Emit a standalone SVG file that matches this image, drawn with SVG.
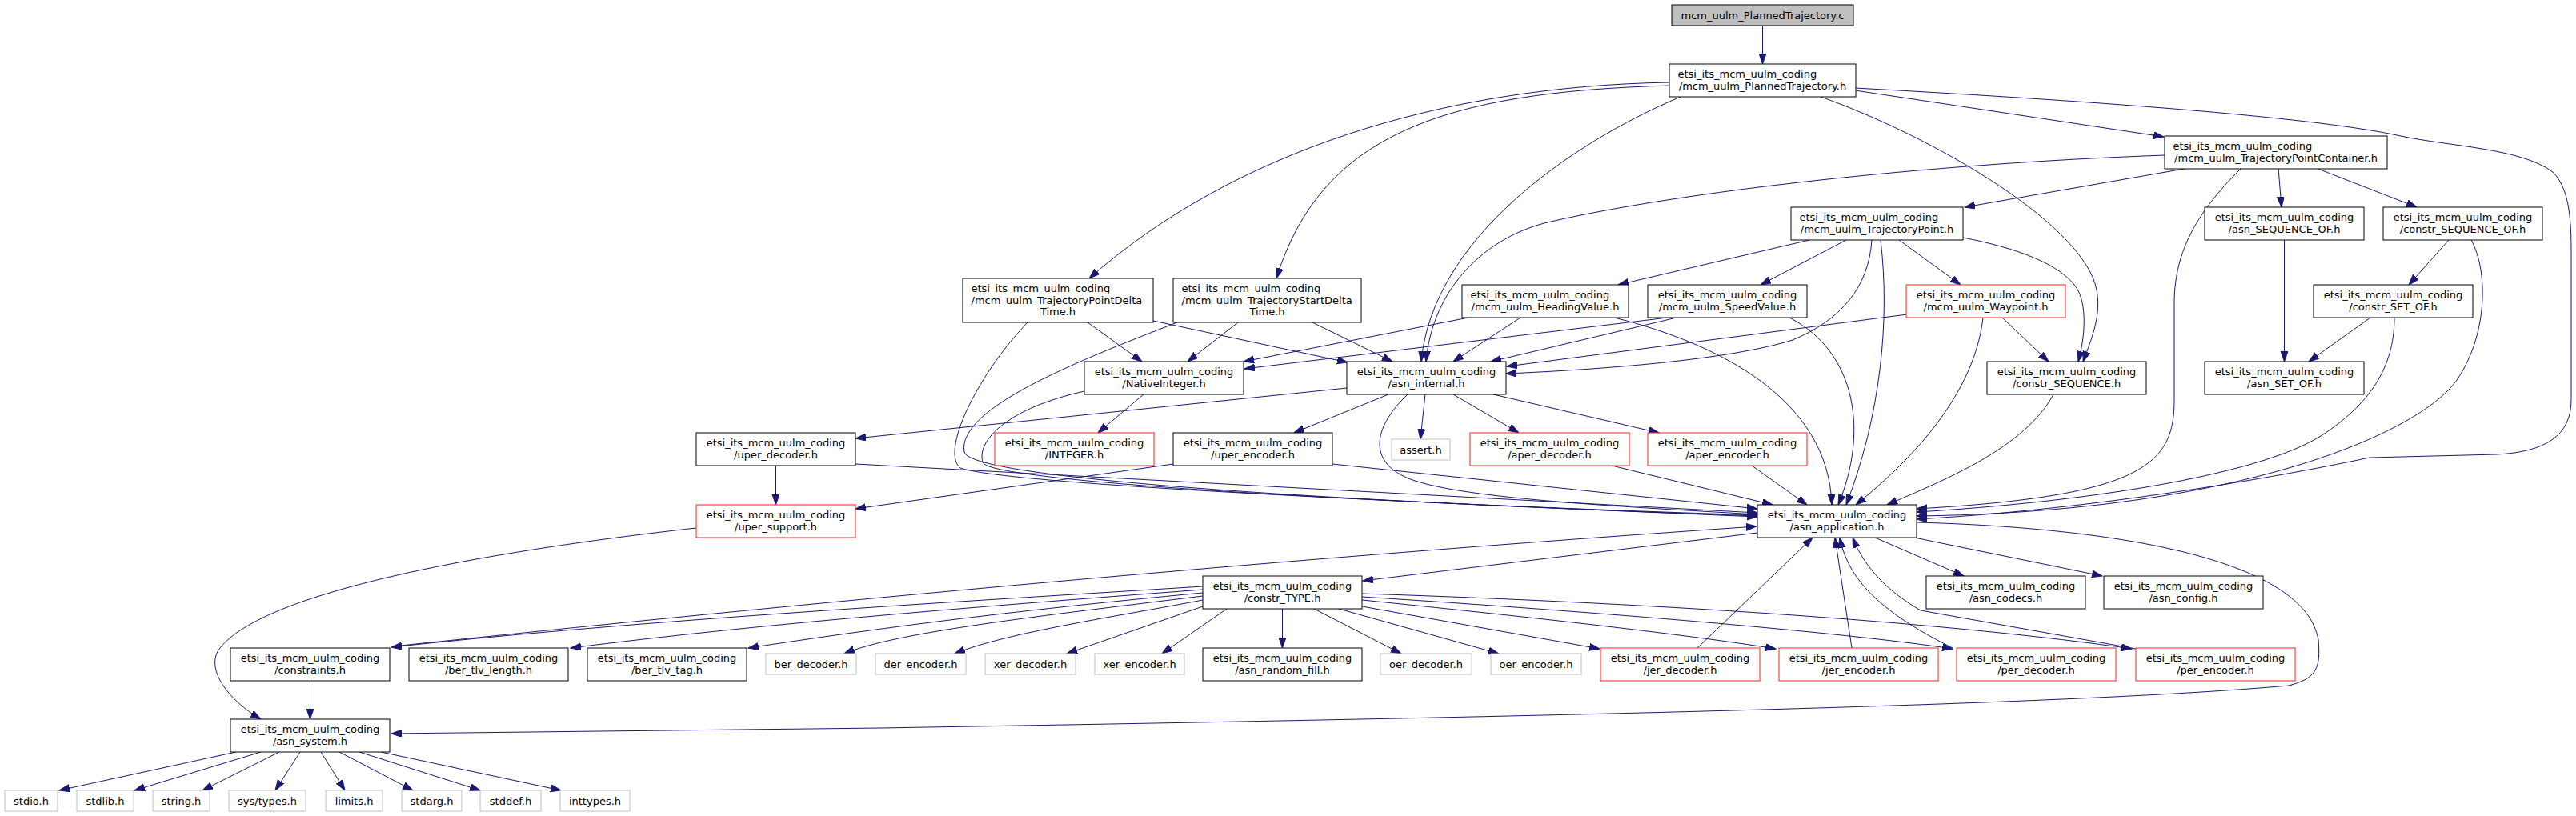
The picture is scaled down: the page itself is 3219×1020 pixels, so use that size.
<svg xmlns="http://www.w3.org/2000/svg" width="3219" height="1020" viewBox="0 0 3219 1020">
<style>
.node rect{fill:#fff;stroke:#000;stroke-width:1}
.node.red rect{stroke:#ff2020}
.node.gray rect{stroke:#bfbfbf}
.node.root rect{fill:#bfbfbf}
text{font-family:"DejaVu Sans","Liberation Sans",sans-serif;font-size:13px;fill:#000}
.m{text-anchor:middle}
#edges path{fill:none;stroke:#191970;stroke-width:1;marker-end:url(#arr)}
</style>
<defs>
<marker id="arr" markerUnits="userSpaceOnUse" markerWidth="14" markerHeight="10" refX="13" refY="4.5" orient="auto" viewBox="0 0 14 10"><path d="M0,0 L13,4.5 L0,9 z" fill="#191970" stroke="#191970" stroke-width="1"/></marker>
</defs>
<rect x="0" y="0" width="3219" height="1020" fill="#fff"/>
<g id="edges">
<path d="M2202.5,32 L2202.5,80"/>
<path d="M2318,113 L2704,171"/>
<path d="M2086,103 C1800,108 1540,190 1361,348"/>
<path d="M2086,107 C1800,115 1650,170 1595,348"/>
<path d="M2100,121 C1960,180 1790,300 1776,452"/>
<path d="M2705,194 C2400,205 2100,240 1938,277 C1857,295 1790,360 1782,452"/>
<path d="M2275,121 C2400,165 2570,260 2612,340 C2633,380 2615,420 2603,452"/>
<path d="M2318,110 C2650,128 2900,148 3000,170 C3060,183 3150,185 3190,215 C3215,240 3213,290 3213,340 L3213,500 C3213,545 3180,565 3120,568 L2961,572 C2900,585 2650,635 2395,649"/>
<path d="M2735,210 L2455,259"/>
<path d="M2847,210 L2851,259"/>
<path d="M2894,210 L3020,259"/>
<path d="M2801,210 C2740,270 2717,320 2717,380 L2717,500 C2717,580 2680,620 2395,636"/>
<path d="M2261,300 L2022,356"/>
<path d="M2307,300 L2200,356"/>
<path d="M2373,300 L2450,356"/>
<path d="M2453,297 C2520,310 2575,330 2595,360 C2608,380 2606,420 2597,452"/>
<path d="M2339,300 C2335,360 2300,400 2240,425 C2160,450 2000,462 1882,467"/>
<path d="M2350,300 C2362,400 2350,520 2307,631"/>
<path d="M2854.5,300 L2854.5,452"/>
<path d="M3060,300 L3010,356"/>
<path d="M3088,300 C3110,340 3108,420 3070,475 C3024,541 2800,640 2395,645"/>
<path d="M2962,397 L2885,452"/>
<path d="M2992,397 C2992,450 2970,500 2900,545 C2820,595 2600,628 2395,640"/>
<path d="M1359,403 L1427,452"/>
<path d="M1441,401 L1684,453"/>
<path d="M1284,403 C1220,470 1175,565 1200,585 C1260,605 1700,625 2196,646"/>
<path d="M1547,403 L1484,452"/>
<path d="M1640,403 L1740,452"/>
<path d="M1471,403 C1350,450 1195,510 1205,565 C1212,600 1700,628 2196,645"/>
<path d="M1355,489 C1260,510 1220,550 1228,578 C1236,602 1700,628 2196,644"/>
<path d="M1835,397 L1554,452"/>
<path d="M1900,397 L1816,452"/>
<path d="M2017,397 C2150,430 2285,500 2289,631"/>
<path d="M2084,397 L1555,461"/>
<path d="M2095,397 L1863,452"/>
<path d="M2236,397 C2320,440 2335,540 2297,631"/>
<path d="M2383,393 L1883,458"/>
<path d="M2502,397 L2560,452"/>
<path d="M2478,397 C2470,470 2420,550 2319,631"/>
<path d="M2566,493 C2530,560 2430,600 2358,631"/>
<path d="M1429,493 L1372,541"/>
<path d="M1683,485 L1069,548"/>
<path d="M1735,493 L1617,541"/>
<path d="M1781,493 L1775,549"/>
<path d="M1816,493 L1898,541"/>
<path d="M1866,493 L2073,541"/>
<path d="M1759,493 C1720,530 1705,575 1760,598 C1820,622 2000,632 2196,643"/>
<path d="M969.5,582 L969.5,631"/>
<path d="M1069,580 L2196,641"/>
<path d="M1466,580 L1069,636"/>
<path d="M1665,580 L2196,636"/>
<path d="M2014,582 L2215,631"/>
<path d="M2189,582 L2258,631"/>
<path d="M870,660 C600,690 330,740 275,810 C255,835 285,875 326,899"/>
<path d="M2196,666 L1703,726"/>
<path d="M2343,672 L2454,720"/>
<path d="M2392,672 L2627,720"/>
<path d="M2395,653 C2650,660 2880,700 2897,800 C2900,835 2895,848 2860,857 C2600,880 2000,895 1100,910 L489,917"/>
<path d="M491,808 C900,765 1500,705 2195,658"/>
<path d="M1503,733 C1200,752 800,775 489,809"/>
<path d="M1503,737 C1200,760 950,780 713,810"/>
<path d="M1503,741 C1250,765 1100,785 935,810"/>
<path d="M1503,745 C1300,770 1120,790 1055,817"/>
<path d="M1503,750 C1400,770 1260,790 1193,817"/>
<path d="M1503,758 L1333,817"/>
<path d="M1533,761 L1452,817"/>
<path d="M1602.5,761 L1602.5,810"/>
<path d="M1642,761 L1751,817"/>
<path d="M1673,761 L1873,817"/>
<path d="M1702,758 L1999,811"/>
<path d="M1702,750 C1900,770 2100,792 2219,811"/>
<path d="M1702,746 C2000,765 2300,790 2440,811"/>
<path d="M1702,742 C2100,755 2450,780 2664,811"/>
<path d="M2121,810 L2265,672"/>
<path d="M2314,810 L2293,672"/>
<path d="M2440,810 C2360,770 2310,730 2299,672"/>
<path d="M2669,811 L2400,763 C2360,740 2330,710 2315,672"/>
<path d="M387.5,851 L387.5,899"/>
<path d="M295,940 L74,988"/>
<path d="M326,940 L168,988"/>
<path d="M349,940 L253,988"/>
<path d="M375,940 L344,988"/>
<path d="M401,940 L431,988"/>
<path d="M424,940 L516,988"/>
<path d="M449,940 L600,988"/>
<path d="M476,940 L701,988"/>
</g>
<g id="n_c" class="node root"><rect x="2089" y="6" width="227" height="26"/><text class="m" x="2202.5" y="23.5">mcm_uulm_PlannedTrajectory.c</text></g>
<g id="n_pth" class="node"><rect x="2086" y="80" width="233" height="41"/><text x="2096.5" y="97">etsi_its_mcm_uulm_coding</text><text class="m" x="2202.5" y="111.5">/mcm_uulm_PlannedTrajectory.h</text></g>
<g id="n_tpc" class="node"><rect x="2705" y="170" width="278" height="41"/><text x="2715.5" y="187">etsi_its_mcm_uulm_coding</text><text class="m" x="2844" y="201.5">/mcm_uulm_TrajectoryPointContainer.h</text></g>
<g id="n_tp" class="node"><rect x="2238" y="259" width="215" height="41"/><text x="2248.5" y="276">etsi_its_mcm_uulm_coding</text><text class="m" x="2345.5" y="290.5">/mcm_uulm_TrajectoryPoint.h</text></g>
<g id="n_sqof" class="node"><rect x="2755" y="259" width="199" height="41"/><text class="m" x="2854.5" y="276">etsi_its_mcm_uulm_coding</text><text class="m" x="2854.5" y="290.5">/asn_SEQUENCE_OF.h</text></g>
<g id="n_csqof" class="node"><rect x="2978" y="259" width="199" height="41"/><text class="m" x="3077.5" y="276">etsi_its_mcm_uulm_coding</text><text class="m" x="3077.5" y="290.5">/constr_SEQUENCE_OF.h</text></g>
<g id="n_tpdt" class="node"><rect x="1203" y="348" width="238" height="55"/><text x="1213.5" y="365">etsi_its_mcm_uulm_coding</text><text x="1213.5" y="379.5">/mcm_uulm_TrajectoryPointDelta</text><text class="m" x="1322" y="394">Time.h</text></g>
<g id="n_tsdt" class="node"><rect x="1466" y="348" width="235" height="55"/><text x="1476.5" y="365">etsi_its_mcm_uulm_coding</text><text x="1476.5" y="379.5">/mcm_uulm_TrajectoryStartDelta</text><text class="m" x="1583.5" y="394">Time.h</text></g>
<g id="n_hv" class="node"><rect x="1827" y="356" width="208" height="41"/><text x="1837.5" y="373">etsi_its_mcm_uulm_coding</text><text class="m" x="1931" y="387.5">/mcm_uulm_HeadingValue.h</text></g>
<g id="n_sv" class="node"><rect x="2059" y="356" width="199" height="41"/><text class="m" x="2158.5" y="373">etsi_its_mcm_uulm_coding</text><text class="m" x="2158.5" y="387.5">/mcm_uulm_SpeedValue.h</text></g>
<g id="n_wp" class="node red"><rect x="2382" y="356" width="199" height="41"/><text class="m" x="2481.5" y="373">etsi_its_mcm_uulm_coding</text><text class="m" x="2481.5" y="387.5">/mcm_uulm_Waypoint.h</text></g>
<g id="n_csetof" class="node"><rect x="2891" y="356" width="199" height="41"/><text class="m" x="2990.5" y="373">etsi_its_mcm_uulm_coding</text><text class="m" x="2990.5" y="387.5">/constr_SET_OF.h</text></g>
<g id="n_ni" class="node"><rect x="1355" y="452" width="199" height="41"/><text class="m" x="1454.5" y="469">etsi_its_mcm_uulm_coding</text><text class="m" x="1454.5" y="483.5">/NativeInteger.h</text></g>
<g id="n_ai" class="node"><rect x="1683" y="452" width="199" height="41"/><text class="m" x="1782.5" y="469">etsi_its_mcm_uulm_coding</text><text class="m" x="1782.5" y="483.5">/asn_internal.h</text></g>
<g id="n_cseq" class="node"><rect x="2483" y="452" width="199" height="41"/><text class="m" x="2582.5" y="469">etsi_its_mcm_uulm_coding</text><text class="m" x="2582.5" y="483.5">/constr_SEQUENCE.h</text></g>
<g id="n_setof" class="node"><rect x="2755" y="452" width="199" height="41"/><text class="m" x="2854.5" y="469">etsi_its_mcm_uulm_coding</text><text class="m" x="2854.5" y="483.5">/asn_SET_OF.h</text></g>
<g id="n_ud" class="node"><rect x="870" y="541" width="199" height="41"/><text class="m" x="969.5" y="558">etsi_its_mcm_uulm_coding</text><text class="m" x="969.5" y="572.5">/uper_decoder.h</text></g>
<g id="n_integer" class="node red"><rect x="1243" y="541" width="199" height="41"/><text class="m" x="1342.5" y="558">etsi_its_mcm_uulm_coding</text><text class="m" x="1342.5" y="572.5">/INTEGER.h</text></g>
<g id="n_ue" class="node"><rect x="1466" y="541" width="199" height="41"/><text class="m" x="1565.5" y="558">etsi_its_mcm_uulm_coding</text><text class="m" x="1565.5" y="572.5">/uper_encoder.h</text></g>
<g id="n_assert" class="node gray"><rect x="1739" y="549" width="73" height="26"/><text class="m" x="1775.5" y="566.5">assert.h</text></g>
<g id="n_ad" class="node red"><rect x="1837" y="541" width="199" height="41"/><text class="m" x="1936.5" y="558">etsi_its_mcm_uulm_coding</text><text class="m" x="1936.5" y="572.5">/aper_decoder.h</text></g>
<g id="n_ae" class="node red"><rect x="2059" y="541" width="199" height="41"/><text class="m" x="2158.5" y="558">etsi_its_mcm_uulm_coding</text><text class="m" x="2158.5" y="572.5">/aper_encoder.h</text></g>
<g id="n_us" class="node red"><rect x="870" y="631" width="199" height="41"/><text class="m" x="969.5" y="648">etsi_its_mcm_uulm_coding</text><text class="m" x="969.5" y="662.5">/uper_support.h</text></g>
<g id="n_aa" class="node"><rect x="2196" y="631" width="199" height="41"/><text class="m" x="2295.5" y="648">etsi_its_mcm_uulm_coding</text><text class="m" x="2295.5" y="662.5">/asn_application.h</text></g>
<g id="n_ctype" class="node"><rect x="1503" y="720" width="199" height="41"/><text class="m" x="1602.5" y="737">etsi_its_mcm_uulm_coding</text><text class="m" x="1602.5" y="751.5">/constr_TYPE.h</text></g>
<g id="n_codecs" class="node"><rect x="2407" y="720" width="199" height="41"/><text class="m" x="2506.5" y="737">etsi_its_mcm_uulm_coding</text><text class="m" x="2506.5" y="751.5">/asn_codecs.h</text></g>
<g id="n_config" class="node"><rect x="2629" y="720" width="199" height="41"/><text class="m" x="2728.5" y="737">etsi_its_mcm_uulm_coding</text><text class="m" x="2728.5" y="751.5">/asn_config.h</text></g>
<g id="n_constraints" class="node"><rect x="288" y="810" width="199" height="41"/><text class="m" x="387.5" y="827">etsi_its_mcm_uulm_coding</text><text class="m" x="387.5" y="841.5">/constraints.h</text></g>
<g id="n_btl" class="node"><rect x="511" y="810" width="199" height="41"/><text class="m" x="610.5" y="827">etsi_its_mcm_uulm_coding</text><text class="m" x="610.5" y="841.5">/ber_tlv_length.h</text></g>
<g id="n_btt" class="node"><rect x="734" y="810" width="199" height="41"/><text class="m" x="833.5" y="827">etsi_its_mcm_uulm_coding</text><text class="m" x="833.5" y="841.5">/ber_tlv_tag.h</text></g>
<g id="n_berdec" class="node gray"><rect x="957" y="817" width="113" height="26"/><text class="m" x="1013.5" y="834.5">ber_decoder.h</text></g>
<g id="n_derenc" class="node gray"><rect x="1094" y="817" width="113" height="26"/><text class="m" x="1150.5" y="834.5">der_encoder.h</text></g>
<g id="n_xerdec" class="node gray"><rect x="1231" y="817" width="113" height="26"/><text class="m" x="1287.5" y="834.5">xer_decoder.h</text></g>
<g id="n_xerenc" class="node gray"><rect x="1368" y="817" width="112" height="26"/><text class="m" x="1424" y="834.5">xer_encoder.h</text></g>
<g id="n_arf" class="node"><rect x="1503" y="810" width="199" height="41"/><text class="m" x="1602.5" y="827">etsi_its_mcm_uulm_coding</text><text class="m" x="1602.5" y="841.5">/asn_random_fill.h</text></g>
<g id="n_oerdec" class="node gray"><rect x="1725" y="817" width="114" height="26"/><text class="m" x="1782" y="834.5">oer_decoder.h</text></g>
<g id="n_oerenc" class="node gray"><rect x="1863" y="817" width="113" height="26"/><text class="m" x="1919.5" y="834.5">oer_encoder.h</text></g>
<g id="n_jerdec" class="node red"><rect x="2000" y="810" width="199" height="41"/><text class="m" x="2099.5" y="827">etsi_its_mcm_uulm_coding</text><text class="m" x="2099.5" y="841.5">/jer_decoder.h</text></g>
<g id="n_jerenc" class="node red"><rect x="2223" y="810" width="199" height="41"/><text class="m" x="2322.5" y="827">etsi_its_mcm_uulm_coding</text><text class="m" x="2322.5" y="841.5">/jer_encoder.h</text></g>
<g id="n_perdec" class="node red"><rect x="2445" y="810" width="199" height="41"/><text class="m" x="2544.5" y="827">etsi_its_mcm_uulm_coding</text><text class="m" x="2544.5" y="841.5">/per_decoder.h</text></g>
<g id="n_perenc" class="node red"><rect x="2669" y="810" width="199" height="41"/><text class="m" x="2768.5" y="827">etsi_its_mcm_uulm_coding</text><text class="m" x="2768.5" y="841.5">/per_encoder.h</text></g>
<g id="n_sys" class="node"><rect x="288" y="899" width="199" height="41"/><text class="m" x="387.5" y="916">etsi_its_mcm_uulm_coding</text><text class="m" x="387.5" y="930.5">/asn_system.h</text></g>
<g id="n_stdio" class="node gray"><rect x="6" y="988" width="66" height="26"/><text class="m" x="39" y="1005.5">stdio.h</text></g>
<g id="n_stdlib" class="node gray"><rect x="96" y="988" width="71" height="26"/><text class="m" x="131.5" y="1005.5">stdlib.h</text></g>
<g id="n_string" class="node gray"><rect x="191" y="988" width="71" height="26"/><text class="m" x="226.5" y="1005.5">string.h</text></g>
<g id="n_systypes" class="node gray"><rect x="286" y="988" width="96" height="26"/><text class="m" x="334" y="1005.5">sys/types.h</text></g>
<g id="n_limits" class="node gray"><rect x="407" y="988" width="71" height="26"/><text class="m" x="442.5" y="1005.5">limits.h</text></g>
<g id="n_stdarg" class="node gray"><rect x="502" y="988" width="75" height="26"/><text class="m" x="539.5" y="1005.5">stdarg.h</text></g>
<g id="n_stddef" class="node gray"><rect x="600" y="988" width="76" height="26"/><text class="m" x="638" y="1005.5">stddef.h</text></g>
<g id="n_inttypes" class="node gray"><rect x="700" y="988" width="87" height="26"/><text class="m" x="743.5" y="1005.5">inttypes.h</text></g>
</svg>
